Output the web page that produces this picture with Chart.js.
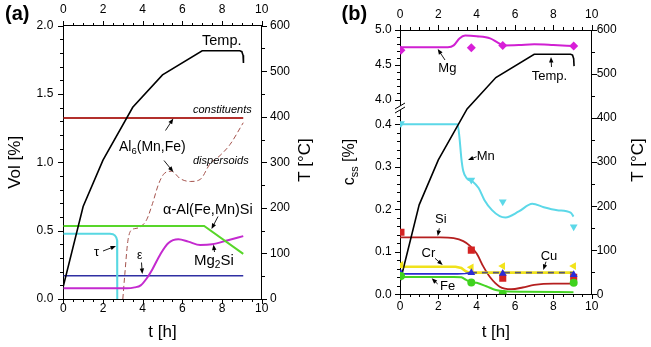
<!DOCTYPE html>
<html><head><meta charset="utf-8">
<script src="https://cdn.jsdelivr.net/npm/chart.js@4.4.1/dist/chart.umd.min.js"></script>
<style>
html,body{margin:0;padding:0;background:#fff;width:651px;height:347px;overflow:hidden}
canvas{position:absolute;top:0}
#ca{left:0;width:325px;height:347px}
#cb{left:325px;width:326px;height:347px}
</style></head><body>
<canvas id="ca" width="325" height="347"></canvas>
<canvas id="cb" width="326" height="347"></canvas>
<script>
// ---------- DATA ----------
// heating profile (shared by both panels), t [h] and T [°C]
const tempTime = [0, 1, 2, 3.5, 5, 7, 8.9, 9.0, 9.06, 9.08];
const tempC    = [28, 203, 305, 421, 492, 545, 545, 543, 535, 518];

// panel (a): volume fractions [%]
const constitT = [0, 9.07];
const constitV = [1.325, 1.325];
const dispT = [3.0, 3.1, 3.25, 3.4, 3.6, 3.85, 4.2, 4.5, 4.8, 5.1, 5.45, 5.9, 6.4, 6.9, 7.4, 7.9, 8.4, 9.07];
const dispV = [0.0, 0.18, 0.42, 0.5, 0.515, 0.525, 0.58, 0.7, 0.84, 0.92, 0.935, 0.88, 0.86, 0.875, 0.99, 1.05, 1.13, 1.29];
const alphaT = [0, 7.1, 9.07];
const alphaV = [0.534, 0.534, 0.33];
const tauT = [0, 2.35, 2.5, 2.6, 2.67, 2.71, 2.72, 2.72];
const tauV = [0.478, 0.478, 0.474, 0.465, 0.45, 0.43, 0.41, 0];
const epsT = [0, 9.07];
const epsV = [0.17, 0.17];
const mg2siT = [0, 3.2, 3.6, 3.9, 4.2, 4.5, 4.9, 5.3, 5.8, 6.3, 6.9, 7.5, 8.3, 9.07];
const mg2siV = [0.078, 0.078, 0.085, 0.10, 0.15, 0.22, 0.33, 0.41, 0.437, 0.42, 0.395, 0.40, 0.43, 0.46];

// panel (b): solid-solution concentrations [%]
const mgT = [0, 2.5, 2.8, 3.1, 3.4, 4.0, 4.7, 5.1, 5.4, 6.2, 7.0, 8.0, 9.05];
const mgV = [4.753, 4.755, 4.78, 4.88, 4.92, 4.91, 4.88, 4.82, 4.78, 4.785, 4.795, 4.785, 4.77];
const mnT = [0, 3.0, 3.1, 3.2, 3.3, 3.5, 3.8, 4.1, 4.4, 4.8, 5.2, 5.5, 6.2, 6.9, 7.5, 8.2, 8.9, 9.05];
const mnV = [0.4, 0.4, 0.37, 0.32, 0.29, 0.272, 0.265, 0.25, 0.222, 0.198, 0.184, 0.181, 0.195, 0.213, 0.205, 0.198, 0.192, 0.183];
const siT = [0, 2.1, 2.8, 3.3, 3.65, 4.0, 4.35, 4.7, 5.2, 5.8, 6.4, 7.0, 8.0, 9.05];
const siV = [0.134, 0.134, 0.132, 0.125, 0.114, 0.096, 0.065, 0.04, 0.018, 0.012, 0.016, 0.022, 0.025, 0.025];
const crT = [0, 2.9, 3.2, 3.4, 3.6, 9.05];
const crV = [0.065, 0.065, 0.062, 0.055, 0.051, 0.051];
const cuT = [0, 3.0, 3.4, 3.7, 9.05];
const cuV = [0.048, 0.048, 0.049, 0.051, 0.051];
const feT = [0, 2.8, 3.2, 3.45, 3.7, 4.0, 4.5, 5.0, 5.5, 6.5, 9.05];
const feV = [0.041, 0.041, 0.04, 0.034, 0.029, 0.027, 0.019, 0.01, 0.007, 0.006, 0.005];
// measured points
const measT = [0.05, 3.72, 5.36, 9.06];
const mgMeas = [4.71, 4.747, 4.78, 4.77];
const mnMeas = [0.402, 0.269, 0.218, 0.159];
const siMeas = [0.146, 0.104, 0.038, 0.040];
const crMeas = [0.069, 0.0635, 0.0665, 0.0665];
const cuMeas = [0.049, 0.051, 0.049, 0.046];
const feMeas = [0.043, 0.028, 0.001, 0.027];

// tick labels
const timeTicks = [0, 2, 4, 6, 8, 10];
const volTicks = [0, 0.5, 1.0, 1.5, 2.0];
const tempTicks = [0, 100, 200, 300, 400, 500, 600];
const cssLowTicks = [0, 0.1, 0.2, 0.3, 0.4];
const cssHighTicks = [4.0, 4.5, 5.0];

// ---------- helpers ----------
const FF = '"Liberation Sans", Arial, sans-serif';
const zip = (xs, ys, f) => xs.map((x, i) => ({x: x, y: f ? f(ys[i]) : ys[i]}));
const seq = (a, b, s) => { const r = []; for (let v = a; v <= b + 1e-9; v += s) r.push(+v.toFixed(6)); return r; };
const minors = (a, b, s, maj) => seq(a, b, s).filter(v => Math.abs(v / maj - Math.round(v / maj)) > 1e-6);

// broken axis (b): lower part 0..0.44 linear, upper part 4..5 compressed
const U4 = 0.4572, UK = 0.1647;
const u = v => v < 2 ? v : U4 + (v - 4) * UK;
const UMAX = u(5.0);

function scale(o) {
  return {
    type: 'linear', position: o.pos, min: o.min, max: o.max,
    ticks: { stepSize: o.step, font: {family: FF, size: 12}, color: '#000', padding: o.pad,
             maxRotation: 0, autoSkip: false, callback: o.cb },
    grid: { display: false, drawTicks: false },
    border: { display: true, color: '#000', width: 1 },
    title: o.title ? { display: true, text: o.title, color: '#000',
                       font: {family: FF, size: 17}, padding: o.tpad } : { display: false },
    afterBuildTicks: o.abt,
    afterFit: s => { if (s.isHorizontal()) s.height = o.size; else s.width = o.size; }
  };
}

const tickPlugin = {
  id: 'mticks',
  afterDraw(chart, args, opts) {
    const ctx = chart.ctx; ctx.save(); ctx.strokeStyle = '#000'; ctx.lineWidth = 1;
    for (const ax of opts.axes) {
      const s = chart.scales[ax.id];
      const draw = (vals, len) => {
        for (const v of vals) {
          const p = Math.round(s.getPixelForValue(v)) + 0.5;
          ctx.beginPath();
          if (ax.pos === 'bottom') { const y = Math.round(s.top); ctx.moveTo(p, y); ctx.lineTo(p, y + len); }
          else if (ax.pos === 'top') { const y = Math.round(s.bottom); ctx.moveTo(p, y); ctx.lineTo(p, y - len); }
          else if (ax.pos === 'left') { const x = Math.round(s.right); ctx.moveTo(x, p); ctx.lineTo(x - len, p); }
          else { const x = Math.round(s.left); ctx.moveTo(x, p); ctx.lineTo(x + len, p); }
          ctx.stroke();
        }
      };
      draw(ax.major, 5); draw(ax.minor, 3);
    }
    ctx.restore();
  }
};

function drawArrow(ctx, x1, y1, x2, y2) {
  const a = Math.atan2(y2 - y1, x2 - x1), L = 5.5, W = 2.2;
  ctx.strokeStyle = '#000'; ctx.fillStyle = '#000'; ctx.lineWidth = 0.9;
  ctx.beginPath(); ctx.moveTo(x1, y1); ctx.lineTo(x2 - L * 0.6 * Math.cos(a), y2 - L * 0.6 * Math.sin(a)); ctx.stroke();
  ctx.beginPath(); ctx.moveTo(x2, y2);
  ctx.lineTo(x2 - L * Math.cos(a) + W * Math.sin(a), y2 - L * Math.sin(a) - W * Math.cos(a));
  ctx.lineTo(x2 - L * Math.cos(a) - W * Math.sin(a), y2 - L * Math.sin(a) + W * Math.cos(a));
  ctx.closePath(); ctx.fill();
}
function drawRich(ctx, t) {
  ctx.save(); ctx.translate(t.x, t.y); if (t.rot) ctx.rotate(t.rot);
  ctx.fillStyle = '#000'; ctx.textBaseline = 'middle'; ctx.textAlign = 'left';
  const st = t.style || '';
  let w = 0;
  for (const [s, sub] of t.parts) {
    ctx.font = st + ' ' + (sub ? t.size * 0.68 : t.size) + 'px ' + FF;
    w += ctx.measureText(s).width;
  }
  let x = t.center ? -w / 2 : 0;
  for (const [s, sub] of t.parts) {
    ctx.font = st + ' ' + (sub ? t.size * 0.68 : t.size) + 'px ' + FF;
    ctx.fillText(s, x, sub ? t.size * 0.3 : 0);
    x += ctx.measureText(s).width;
  }
  ctx.restore();
}
const annotPlugin = {
  id: 'annot',
  afterDraw(chart, args, opts) {
    const ctx = chart.ctx; ctx.save();
    (opts.arrows || []).forEach(a => drawArrow(ctx, ...a));
    (opts.texts || []).forEach(t => drawRich(ctx, t));
    if (opts.brk) {
      const [bx, by] = opts.brk;
      ctx.fillStyle = '#fff';
      ctx.beginPath(); ctx.moveTo(bx - 5, by + 3); ctx.lineTo(bx + 5, by - 3); ctx.lineTo(bx + 5, by + 1); ctx.lineTo(bx - 5, by + 7); ctx.closePath(); ctx.fill();
      ctx.strokeStyle = '#000'; ctx.lineWidth = 1;
      ctx.beginPath(); ctx.moveTo(bx - 5, by + 3); ctx.lineTo(bx + 5, by - 3); ctx.stroke();
      ctx.beginPath(); ctx.moveTo(bx - 5, by + 7); ctx.lineTo(bx + 5, by + 1); ctx.stroke();
    }
    ctx.restore();
  }
};

const line = (data, color, w, extra) => Object.assign({
  data: data, borderColor: color, backgroundColor: color, borderWidth: w,
  showLine: true, pointRadius: 0, tension: 0, fill: false
}, extra || {});
const pts = (data, color, style, rot, r) => ({
  data: data, showLine: false, pointStyle: style, pointRotation: rot || 0,
  pointRadius: r || 4, backgroundColor: color, borderColor: color, borderWidth: 0
});

// ---------- PANEL (a) ----------
new Chart(document.getElementById('ca'), {
  type: 'scatter',
  data: { datasets: [
    line(zip(tempTime, tempC), '#000', 1.6, {yAxisID: 'yT'}),
    line(zip(constitT, constitV), '#b3302c', 2, {yAxisID: 'y'}),
    line(zip(alphaT, alphaV), '#58d62a', 2, {yAxisID: 'y'}),
    line(zip(mg2siT, mg2siV), '#c42acf', 2, {yAxisID: 'y', cubicInterpolationMode: 'monotone'}),
    line(zip(tauT, tauV), '#58d8e2', 2, {yAxisID: 'y'}),
    line(zip(epsT, epsV), '#2f2fa3', 1.6, {yAxisID: 'y'}),
    line(zip(dispT, dispV), '#a4524c', 1, {yAxisID: 'y', borderDash: [5, 3], cubicInterpolationMode: 'monotone'})
  ]},
  options: {
    responsive: false, animation: false, events: [],
    layout: { padding: 0 },
    plugins: {
      legend: {display: false}, tooltip: {enabled: false},
      mticks: { axes: [
        {id: 'x', pos: 'bottom', major: seq(0, 10, 2), minor: minors(0, 10, 0.5, 2)},
        {id: 'x2', pos: 'top', major: seq(0, 10, 2), minor: minors(0, 10, 0.5, 2)},
        {id: 'y', pos: 'left', major: seq(0, 2, 0.5), minor: minors(0, 2, 0.1, 0.5)},
        {id: 'yT', pos: 'right', major: seq(0, 600, 100), minor: minors(0, 600, 50, 100)}
      ]},
      annot: {
        arrows: [
          [165.5, 130.5, 173.3, 118.5],
          [164, 160.5, 173.3, 172],
          [218, 216.5, 211.5, 229],
          [214.5, 252, 213.5, 244.5],
          [103, 251, 116, 246],
          [141.5, 262.5, 142.3, 274]
        ],
        texts: [
          {x: 5, y: 14, size: 20, style: 'bold', parts: [['(a)']]},
          {x: 305, y: 160, size: 17, rot: -Math.PI / 2, center: true, parts: [['T [\u00b0C]']]},
          {x: 202, y: 41, size: 14.5, parts: [['Temp.']]},
          {x: 193, y: 110, size: 11, style: 'italic', parts: [['constituents']]},
          {x: 119, y: 147, size: 14, parts: [['Al'], ['6', 1], ['(Mn,Fe)']]},
          {x: 193, y: 161, size: 11, style: 'italic', parts: [['dispersoids']]},
          {x: 163, y: 210, size: 14.5, parts: [['\u03b1-Al(Fe,Mn)Si']]},
          {x: 194, y: 261, size: 15, parts: [['Mg'], ['2', 1], ['Si']]},
          {x: 94, y: 252.5, size: 13, parts: [['\u03c4']]},
          {x: 137, y: 256, size: 12, parts: [['\u03b5']]}
        ]
      }
    },
    scales: {
      x: scale({pos: 'bottom', min: 0, max: 10, step: 2, pad: 2, size: 48, title: 't [h]', tpad: {top: 0, bottom: 4}}),
      x2: scale({pos: 'top', min: 0, max: 10, step: 2, pad: 8.5, size: 25.7}),
      y: scale({pos: 'left', min: 0, max: 2, step: 0.5, pad: 10, size: 63.3, title: 'Vol [%]', tpad: {top: 5, bottom: 0},
                cb: v => v.toFixed(1)}),
      yT: scale({pos: 'right', min: 0, max: 600, step: 100, pad: 8.3, size: 63.3})
    }
  },
  plugins: [tickPlugin, annotPlugin]
});

// ---------- PANEL (b) ----------
const cssMajor = cssLowTicks.map(u).concat(cssHighTicks.map(u));
const cssLabels = cssLowTicks.concat(cssHighTicks).map(v => v.toFixed(1));
const cssMinor = minors(0, 0.42, 0.02, 0.1).map(u).concat(minors(3.9, 5.0, 0.1, 0.5).map(u));

new Chart(document.getElementById('cb'), {
  type: 'scatter',
  data: { datasets: [
    pts(zip(measT, mgMeas, u), '#d81fd8', 'rectRot', 0, 4.5),
    pts(zip(measT, mnMeas), '#5cd8e8', 'triangle', 180, 4.5),
    pts(zip(measT, feMeas), '#3fd21e', 'circle', 0, 4),
    pts(zip(measT, cuMeas), '#2b2bd6', 'triangle', 0, 4.5),
    pts(zip(measT, siMeas), '#d42222', 'rect', 0, 5),
    pts(zip(measT, crMeas), '#f2e31a', 'triangle', 270, 4.5),
    line(zip(tempTime, tempC), '#000', 1.6, {yAxisID: 'yT'}),
    line(zip(cuT, cuV), '#2b2bd0', 1.6, {yAxisID: 'y',
      segment: { borderDash: c => c.p0.parsed.x >= 3.6 ? [6, 5] : undefined,
                 borderColor: c => c.p0.parsed.x >= 3.6 ? '#55557a' : undefined }}),
    line(zip(crT, crV), '#f0e21c', 2.6, {yAxisID: 'y'}),
    line(zip(feT, feV), '#45d424', 2, {yAxisID: 'y', cubicInterpolationMode: 'monotone'}),
    line(zip(siT, siV), '#b51f1f', 1.8, {yAxisID: 'y', cubicInterpolationMode: 'monotone'}),
    line(zip(mnT, mnV), '#5cd8e8', 2, {yAxisID: 'y', cubicInterpolationMode: 'monotone'}),
    line(zip(mgT, mgV, u), '#d020d2', 2, {yAxisID: 'y', cubicInterpolationMode: 'monotone'})
  ]},
  options: {
    responsive: false, animation: false, events: [],
    layout: { padding: 0 },
    plugins: {
      legend: {display: false}, tooltip: {enabled: false},
      mticks: { axes: [
        {id: 'x', pos: 'bottom', major: seq(0, 10, 2), minor: minors(0, 10, 0.5, 2)},
        {id: 'x2', pos: 'top', major: seq(0, 10, 2), minor: minors(0, 10, 0.5, 2)},
        {id: 'y', pos: 'left', major: cssMajor, minor: cssMinor},
        {id: 'yT', pos: 'right', major: seq(0, 600, 100), minor: minors(0, 600, 50, 100)}
      ]},
      annot: {
        brk: [75, 106],
        arrows: [
          [445 - 325, 60, 437.7 - 325, 49],
          [551.5 - 325, 67, 551 - 325, 57],
          [476.7 - 325, 156.7, 468 - 325, 160],
          [439.3 - 325, 228.3, 437.7 - 325, 236],
          [435 - 325, 258.3, 442.7 - 325, 265],
          [437.7 - 325, 284, 431.7 - 325, 278.3],
          [546 - 325, 261.7, 543.3 - 325, 270]
        ],
        texts: [
          {x: 341.5 - 325, y: 14, size: 20, style: 'bold', parts: [['(b)']]},
          {x: 25, y: 162, size: 16, rot: -Math.PI / 2, center: true, parts: [['c'], ['ss', 1], [' [%]']]},
          {x: 638 - 325, y: 160, size: 17, rot: -Math.PI / 2, center: true, parts: [['T [\u00b0C]']]},
          {x: 438.3 - 325, y: 68.3, size: 13, parts: [['Mg']]},
          {x: 531.7 - 325, y: 76.7, size: 13, parts: [['Temp.']]},
          {x: 476.7 - 325, y: 156.7, size: 13, parts: [['Mn']]},
          {x: 435 - 325, y: 219.3, size: 13, parts: [['Si']]},
          {x: 421.5 - 325, y: 253.3, size: 13, parts: [['Cr']]},
          {x: 440 - 325, y: 286.7, size: 13, parts: [['Fe']]},
          {x: 540.7 - 325, y: 256, size: 13, parts: [['Cu']]}
        ]
      }
    },
    scales: {
      x: scale({pos: 'bottom', min: 0, max: 10, step: 2, pad: 5.2, size: 52.7, title: 't [h]', tpad: {top: 0, bottom: 4.8}}),
      x2: scale({pos: 'top', min: 0, max: 10, step: 2, pad: 7.8, size: 30}),
      y: scale({pos: 'left', min: 0, max: UMAX, pad: 8.3, size: 75,
                abt: s => { s.ticks = cssMajor.map(v => ({value: v})); },
                cb: (v, i) => cssLabels[i]}),
      yT: scale({pos: 'right', min: 0, max: 600, step: 100, pad: 5, size: 59.3})
    }
  },
  plugins: [tickPlugin, annotPlugin]
});
</script>
</body></html>
